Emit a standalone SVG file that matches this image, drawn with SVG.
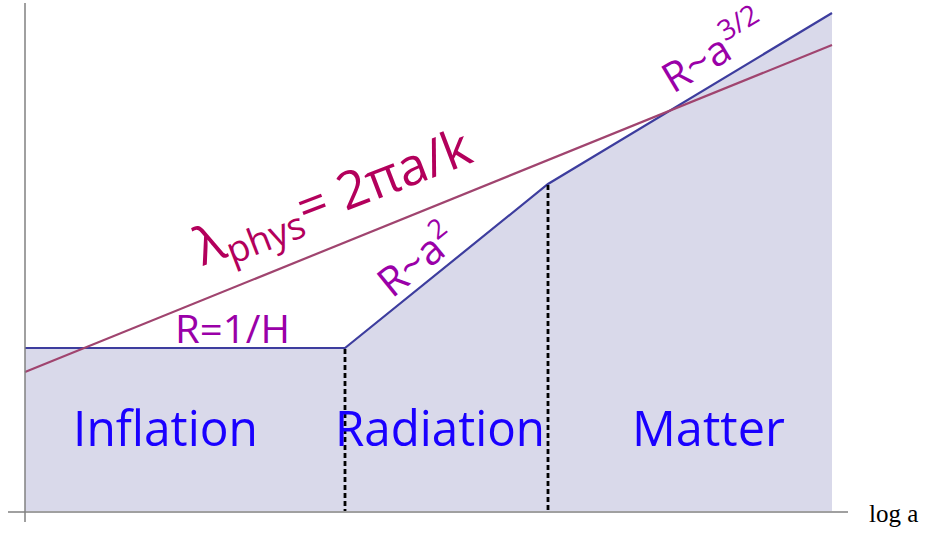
<svg xmlns="http://www.w3.org/2000/svg" width="925" height="534" viewBox="0 0 925 534">
<style>
.axis{stroke:#808080;stroke-width:1.5;fill:none}
.curve{stroke:#3d3d9e;stroke-width:2.2;fill:none}
.lam{stroke:#a0446f;stroke-width:2.2;fill:none}
.dash{stroke:#000;stroke-width:2.8;stroke-dasharray:5,3;fill:none}
.era{font-family:"Open Sans","Noto Sans",sans-serif;fill:#1a00ff;font-size:50px}
.lab{font-family:"Open Sans","Noto Sans",sans-serif;fill:#9a00a8}
</style>
<rect width="925" height="534" fill="#fff"/>
<g id="region">
<polygon points="25,348 345,348 548,184 832,13 832,511 25,511" fill="#d9d9ea"/>
</g>
<g id="connectors">
<polyline class="curve" points="25,348 345,348 548,184 832,13"/>
<line class="lam" x1="25" y1="372" x2="832" y2="45"/>
<line class="dash" x1="345" y1="349" x2="345" y2="511"/>
<line class="dash" x1="548" y1="185" x2="548" y2="511"/>
<line class="axis" x1="25" y1="3" x2="25" y2="522"/>
<line class="axis" x1="8" y1="512" x2="848" y2="512"/>
</g>
<g id="inflation"><text class="era" x="73" y="446" textLength="185" lengthAdjust="spacingAndGlyphs">Inflation</text></g>
<g id="radiation"><text class="era" x="335" y="446" textLength="210" lengthAdjust="spacingAndGlyphs">Radiation</text></g>
<g id="matter"><text class="era" x="632" y="446" textLength="153" lengthAdjust="spacingAndGlyphs">Matter</text></g>
<g id="r-hubble"><text class="lab" x="175" y="343" font-size="39" textLength="115" lengthAdjust="spacingAndGlyphs">R=1/H</text></g>
<g id="r-rad"><text class="lab" transform="translate(392,299) rotate(-39)" font-size="41">R~a<tspan font-size="27" dy="-17">2</tspan></text></g>
<g id="r-mat"><text class="lab" transform="translate(673,94) rotate(-31)" font-size="41">R~a<tspan font-size="28" dy="-18">3/2</tspan></text></g>
<g id="lambda"><text transform="translate(203,266) rotate(-21)" font-family="Open Sans,Noto Sans,sans-serif" fill="#b3005c" font-size="52">λ<tspan font-size="37" dy="9">phys</tspan><tspan dy="-9">= 2πa/k</tspan></text></g>
<g id="xlabel"><text x="869" y="522" font-family="Liberation Serif,serif" font-size="25" fill="#000">log a</text></g>
</svg>
